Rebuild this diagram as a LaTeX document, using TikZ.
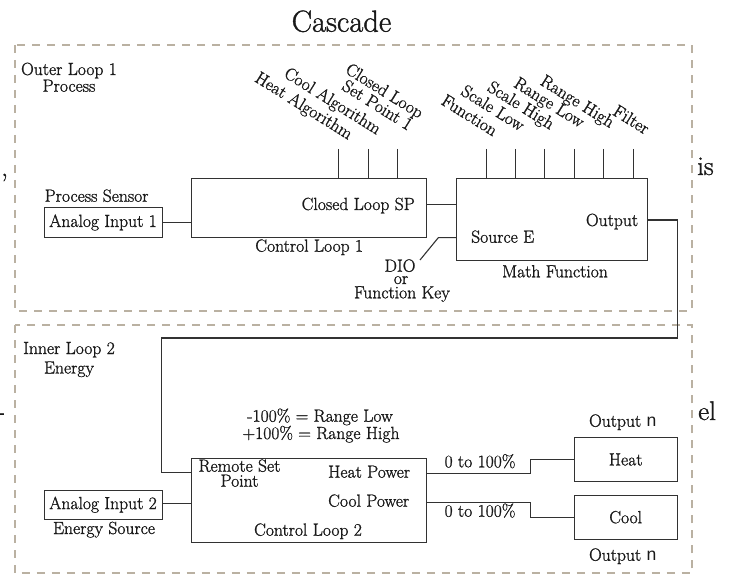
\documentclass[tikz,border=0pt]{standalone}
\usepackage{fontspec}
\setmainfont{Latin Modern Roman}[RawFeature={embolden=1.2}]
\newfontfamily\arialf{Liberation Sans}
\definecolor{dashc}{RGB}{186,177,162}
\definecolor{linec}{RGB}{50,50,50}
\definecolor{txtc}{RGB}{25,25,25}
\begin{document}
\begin{tikzpicture}[x=1pt,y=-1pt,
  lbl/.style={font=\fontsize{17.6}{20}\selectfont, text=txtc, inner sep=0pt},
  rl/.style={lbl, rotate=-32, anchor=base east},
  box/.style={draw=linec, line width=1pt, inner sep=0pt, font=\fontsize{17.6}{20}\selectfont, text=txtc},
  wire/.style={draw=linec, line width=1.1pt},
  region/.style={draw=dashc, line width=2.3pt, dash pattern=on 8pt off 7pt},
  side/.style={font=\fontsize{27}{30}\selectfont, text=txtc, inner sep=0pt}]
\useasboundingbox (0,0) rectangle (729,575);

% dashed regions
\draw[region] (15,45) rectangle (691.7,310.7);
\draw[region] (15,325) rectangle (691.7,573.3);

% page fragments
\node[side, anchor=base west] (f1) at (1,176) {,};
\node[side, anchor=base west] (f2) at (697,175) {is};
\node[side, anchor=base west] (f3) at (-3.3,420) {-};
\node[side, anchor=base west] (f4) at (698,420) {el};

% title
\node[lbl, anchor=base, font=\fontsize{30.5}{34}\selectfont] (title) at (341.5,31.7) {Cascade};

% boxes
\node[box, minimum width=118pt, minimum height=29.5pt] (ai1) at (103,222.5) {Analog Input 1};
\node[box, minimum width=235pt, minimum height=59pt] (cl1) at (309.2,207.8) {};
\node[box, minimum width=191pt, minimum height=81.7pt] (mf) at (552.2,219.2) {};
\node[box, minimum width=235pt, minimum height=84pt] (cl2) at (309.2,500.3) {};
\node[box, minimum width=118pt, minimum height=29.3pt] (ai2) at (103,504.7) {Analog Input 2};
\node[box, minimum width=103.3pt, minimum height=44.4pt] (heat) at (625.7,459.5) {Heat};
\node[box, minimum width=103.3pt, minimum height=44.3pt] (cool) at (625.7,517.2) {Cool};

% labels
\node[lbl, anchor=base] (ol1) at (69,75) {Outer Loop 1};
\node[lbl, anchor=base] (ol2) at (69,91.7) {Process};
\node[lbl, anchor=base] (il1) at (69,354) {Inner Loop 2};
\node[lbl, anchor=base] (il2) at (69,373.5) {Energy};
\node[lbl, anchor=base west] (ps) at (44.5,201.7) {Process Sensor};
\node[lbl, anchor=base east] (clsp) at (415,210) {Closed Loop SP};
\node[lbl, anchor=base] (cl1l) at (309.2,251.7) {Control Loop 1};
\node[lbl, anchor=base west] (srcl) at (471,242.7) {Source E};
\node[lbl, anchor=base east] (outl) at (638.3,226) {Output};
\node[lbl, anchor=base] (mfl) at (555,277.3) {Math Function};
\node[lbl, anchor=base] (dio) at (400,271.7) {DIO};
\node[lbl, anchor=base] (dior) at (401,284) {or};
\node[lbl, anchor=base] (fkey) at (402,298.3) {Function Key};
\node[lbl, anchor=base] (rlow) at (320,421.7) {-100\% = Range Low};
\node[lbl, anchor=base] (rhigh) at (321,439) {+100\% = Range High};
\node[lbl, anchor=base] (rsp1) at (239.5,471.7) {Remote Set};
\node[lbl, anchor=base] (rsp2) at (239.5,486.7) {Point};
\node[lbl, anchor=base west] (hp) at (328,477.7) {Heat Power};
\node[lbl, anchor=base west] (cp) at (328,506.7) {Cool Power};
\node[lbl, anchor=base] (cl2l) at (308,535.7) {Control Loop 2};
\node[lbl, anchor=base] (esrc) at (104,534) {Energy Source};
\node[lbl, anchor=base] (p1) at (480,467.3) {0 to 100\%};
\node[lbl, anchor=base] (p2) at (480,516.7) {0 to 100\%};
\node[lbl, anchor=base] (on1) at (622.7,426.7) {Output {\arialf n}};
\node[lbl, anchor=base] (on2) at (622.7,560.7) {Output {\arialf n}};

% rotated labels
\node[rl] (r1) at (348.3,140) {Heat Algorithm};
\node[rl] (r2) at (376.7,135) {Cool Algorithm};
\node[rl] (r3) at (408,131) {Set Point 1};
\node[rl] (r4) at (419,119) {Closed Loop};
\node[rl] (m1) at (493,136.7) {Function};
\node[rl] (m2) at (520,131.7) {Scale Low};
\node[rl] (m3) at (550,130) {Scale High};
\node[rl] (m4) at (580,128.3) {Range Low};
\node[rl] (m5) at (610,128.3) {Range High};
\node[rl] (m6) at (645,135) {Filter};

% tick lines
\foreach \x [count=\i] in {338.5,368.5,397.5} {
  \coordinate (t\i) at (\x,149);
  \draw[wire] (t\i) -- (t\i |- cl1.north);
}
\foreach \x [count=\i] in {486.5,515.5,544.5,574.5,603.5,633.5} {
  \coordinate (u\i) at (\x,149);
  \draw[wire] (u\i) -- (u\i |- mf.north);
}

% connectors
\draw[wire] (ai1.east) -- (ai1.east -| cl1.west);
\coordinate (spy) at (0,204.3);
\draw[wire] (cl1.east |- spy) -- (mf.west |- spy);
\coordinate (srcE) at (438.3,237.7);
\coordinate (dioend) at (420,260);
\draw[wire] (mf.west |- srcE) -- (srcE) -- (dioend);
\coordinate (fa) at (677.5,220);
\coordinate (fb) at (677.5,338);
\coordinate (fc) at (161.5,338);
\coordinate (fd) at (161.5,472.7);
\draw[wire] (mf.east |- fa) -- (fa) -- (fb) -- (fc) -- (fd) -- (fd -| cl2.west);
\draw[wire] (ai2.east |- 0,503.3) -- (cl2.west |- 0,503.3);
\coordinate (ha) at (530.5,473.3);
\coordinate (hb) at (530.5,0 |- heat.west);
\draw[wire] (cl2.east |- ha) -- (ha) -- (hb) -- (heat.west);
\coordinate (ca) at (530.5,502.3);
\coordinate (cb) at (530.5,0 |- cool.west);
\draw[wire] (cl2.east |- ca) -- (ca) -- (cb) -- (cool.west);
\end{tikzpicture}
\end{document}
